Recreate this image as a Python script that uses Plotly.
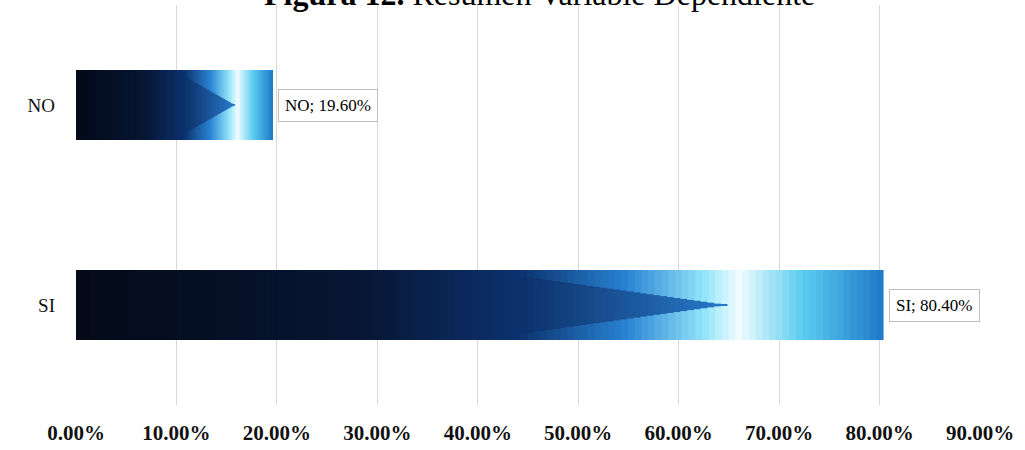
import plotly.graph_objects as go

categories = ["SI", "NO"]
values = [0.804, 0.196]
labels = ["SI; 80.40%", "NO; 19.60%"]
tick_vals = [0, 0.1, 0.2, 0.3, 0.4, 0.5, 0.6, 0.7, 0.8, 0.9]
tick_text = ["0.00%", "10.00%", "20.00%", "30.00%", "40.00%", "50.00%",
             "60.00%", "70.00%", "80.00%", "90.00%"]

BAR_W = 0.35
N_SEG = 120


def lerp(c1, c2, t):
    return tuple(int(round(a + (b - a) * t)) for a, b in zip(c1, c2))


def seg_color(f):
    stops = [(0.0, (4, 10, 24)), (0.35, (7, 22, 52)), (0.55, (12, 50, 110)),
             (0.68, (40, 130, 210)), (0.78, (150, 230, 250)),
             (0.82, (240, 252, 255)), (0.90, (90, 205, 240)), (1.0, (30, 120, 200))]
    for (f0, c0), (f1, c1) in zip(stops[:-1], stops[1:]):
        if f0 <= f <= f1:
            return "rgb(%d,%d,%d)" % lerp(c0, c1, (f - f0) / (f1 - f0))
    return "rgb(%d,%d,%d)" % stops[-1][1]


fig = go.Figure()

for cat, v in zip(categories, values):
    step = v / N_SEG
    bases = [i * step for i in range(N_SEG)]
    widths = [step * 1.8 if i < N_SEG - 1 else step for i in range(N_SEG)]
    cols = [seg_color((i + 0.5) / N_SEG) for i in range(N_SEG)]
    fig.add_trace(go.Bar(y=[cat] * N_SEG, x=widths, base=bases,
                         orientation="h", width=BAR_W, marker=dict(color=cols, line_width=0),
                         hoverinfo="skip", showlegend=False))
    # dark inner wedge making a chevron (">") shape of the light streaks
    inner_x, inner_b, inner_w, inner_c = [], [], [], []
    for i in range(N_SEG):
        f = (i + 0.5) / N_SEG
        if 0.55 <= f <= 0.80:
            t = (f - 0.55) / 0.25
            inner_x.append(step * 1.8)
            inner_b.append(i * step)
            inner_w.append(BAR_W * 0.8 * (1 - t))
            inner_c.append("rgb(%d,%d,%d)" % lerp((12, 48, 105), (40, 120, 200), t))
    fig.add_trace(go.Bar(y=[cat] * len(inner_x), x=inner_x, base=inner_b,
                         orientation="h", width=inner_w,
                         marker=dict(color=inner_c, line_width=0),
                         hoverinfo="skip", showlegend=False))

for cat, v, lab in zip(categories, values, labels):
    fig.add_annotation(x=v, y=cat, xref="x", yref="y", text=lab, showarrow=False,
                       xanchor="left", yanchor="middle", xshift=5,
                       font=dict(family="Liberation Serif", size=17, color="#000000"),
                       bgcolor="white", bordercolor="#bfbfbf", borderwidth=1, borderpad=6)

fig.add_annotation(x=0.513, y=1.028, xref="paper", yref="paper",
                   text="<b>Figura 12.</b> Resumen Variable Dependiente", showarrow=False,
                   xanchor="center", yanchor="middle",
                   font=dict(family="Liberation Serif", size=32, color="#000000"))

fig.update_layout(
    width=1025, height=450,
    margin=dict(l=76, r=45, t=5, b=45, autoexpand=False),
    paper_bgcolor="white", plot_bgcolor="white",
    barmode="overlay",
    showlegend=False,
    xaxis=dict(range=[0, 0.9], tickvals=tick_vals, ticktext=tick_text, automargin=False,
               showgrid=True, gridcolor="#d9d9d9", gridwidth=1, zeroline=False,
               showline=False, ticks="", ticklabelstandoff=13,
               tickfont=dict(family="Liberation Serif", size=21, color="#111111", weight="bold")),
    yaxis=dict(categoryorder="array", categoryarray=categories, range=[-0.5, 1.5],
               automargin=False,
               showgrid=False, zeroline=False, showline=False, ticks="",
               ticklabelstandoff=20,
               tickfont=dict(family="Liberation Serif", size=19, color="#111111")),
)

fig.write_html("out.html", config={"displayModeBar": False},
               post_script="document.body.style.margin='0';document.body.style.padding='0';"
                           "document.body.style.overflow='hidden';")
